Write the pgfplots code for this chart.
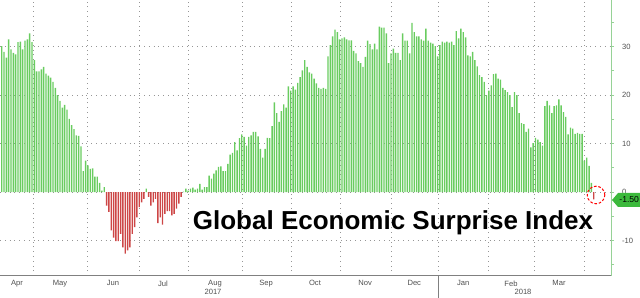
\documentclass[border=0pt]{standalone}
\usepackage{fontspec}
\setmainfont{Liberation Sans}
\usepackage{pgfplots}
\pgfplotsset{compat=1.18}
\usepackage{pgfplotstable}
\definecolor{gfill}{RGB}{105,204,95}
\definecolor{rfill}{RGB}{205,70,70}
\definecolor{axgreen}{RGB}{150,210,150}
\definecolor{txt}{RGB}{80,80,80}
\definecolor{gridc}{RGB}{150,150,150}
\definecolor{flag}{RGB}{60,185,60}

\pgfplotstableread{
i v
1 30.1
2 28.9
3 27.7
4 31.5
5 29.4
6 28.7
7 28.4
8 30.9
9 31.0
10 29.4
11 31.2
12 31.5
13 32.7
14 30.9
15 27.2
16 24.9
17 24.9
18 25.3
19 25.8
20 24.4
21 24.0
22 23.6
23 22.7
24 21.5
25 20.0
26 18.8
27 17.4
28 18.0
29 17.0
30 15.1
31 13.8
32 13.0
33 11.7
34 11.6
35 9.4
36 4.3
37 6.5
38 5.5
39 4.8
40 4.9
41 3.2
42 3.2
43 1.9
44 0.3
45 1.0
46 -2.8
47 -4.1
48 -7.9
49 -9.4
50 -10.1
51 -10.1
52 -8.6
53 -11.4
54 -12.7
55 -12.0
56 -11.4
57 -8.6
58 -7.2
59 -5.2
60 -3.1
61 -2.1
62 -1.4
63 0.7
64 -1.0
65 -2.8
66 -2.1
67 -1.4
68 -6.4
69 -5.2
70 -6.7
71 -4.5
72 -3.9
73 -3.9
74 -4.8
75 -4.5
76 -3.4
77 -2.4
78 -1.0
79 0.1
80 0.7
81 0.3
82 0.7
83 0.9
84 0.5
85 0.7
86 1.7
87 0.5
88 1.0
89 1.0
90 3.4
91 2.8
92 3.8
93 4.5
94 5.2
95 5.3
96 4.3
97 4.3
98 5.8
99 7.7
100 8.1
101 10.3
102 8.6
103 11.1
104 11.9
105 11.4
106 9.6
107 11.4
108 11.7
109 12.4
110 12.4
111 11.5
112 8.9
113 7.1
114 8.9
115 11.2
116 11.1
117 13.6
118 18.5
119 16.3
120 14.5
121 16.7
122 18.1
123 17.4
124 21.8
125 20.9
126 21.8
127 21.1
128 22.5
129 23.7
130 25.1
131 27.2
132 25.8
133 24.7
134 24.4
135 23.4
136 22.4
137 21.5
138 21.3
139 21.5
140 21.3
141 28.0
142 30.3
143 32.1
144 33.5
145 33.0
146 31.5
147 31.7
148 31.9
149 31.5
150 31.3
151 31.3
152 29.1
153 28.6
154 27.0
155 26.6
156 25.8
157 27.9
158 31.2
159 30.5
160 29.4
161 30.6
162 29.4
163 34.1
164 33.9
165 33.9
166 32.7
167 26.6
168 28.6
169 29.6
170 28.7
171 28.7
172 27.2
173 32.7
174 31.2
175 31.2
176 28.6
177 34.9
178 33.0
179 32.1
180 32.1
181 31.5
182 31.2
183 33.7
184 31.2
185 30.8
186 30.6
187 30.1
188 28.0
189 30.3
190 31.0
191 30.8
192 31.0
193 30.8
194 31.0
195 30.3
196 33.2
197 31.7
198 33.7
199 33.0
200 31.9
201 28.2
202 28.0
203 28.9
204 27.2
205 25.9
206 24.1
207 23.7
208 22.7
209 20.0
210 20.9
211 22.0
212 24.3
213 24.4
214 23.4
215 23.2
216 21.5
217 21.0
218 20.6
219 20.0
220 17.5
221 20.6
222 20.0
223 16.3
224 14.2
225 14.0
226 12.4
227 13.1
228 9.2
229 10.1
230 11.2
231 10.8
232 10.3
233 9.6
234 17.7
235 18.8
236 17.9
237 16.3
238 17.7
239 17.9
240 19.1
241 17.9
242 16.5
243 15.5
244 11.9
245 13.3
246 13.1
247 12.0
248 12.2
249 12.0
250 12.0
251 6.5
252 7.1
253 5.4
254 1.9
255 -1.5
}\data

\begin{document}
\begin{tikzpicture}[x=1pt,y=1pt]
\useasboundingbox (0,-11) rectangle (320,138);
\begin{axis}[
  at={(0,0)}, anchor=south west,
  scale only axis, width=305.5pt, height=138pt,
  xmin=0.27, xmax=262.4, ymin=-17.3, ymax=39.6,
  axis x line*=bottom, axis y line*=right,
  x axis line style={draw=gray, line width=0.5pt, -},
  y axis line style={draw=axgreen, line width=0.5pt, -},
  xtick={7.56,26.0,48.7,70.2,92.5,114.4,135.4,156.9,178.0,199.0,219.5,240.1},
  xticklabels={Apr,May,Jun,Jul,Aug,Sep,Oct,Nov,Dec,Jan,Feb,Mar},
  minor xtick={14.43,37.6,59.9,80.9,104.1,125.1,146.1,168.0,188.2,209.6,229.4,250.8},
  xminorgrids=true, xmajorgrids=false,
  x tick style={draw=none},
  xticklabel style={font=\fontsize{3.8}{4}\selectfont, text=txt, yshift=2.8pt},
  ytick={-10,0,10,20,30},
  yticklabels={-10,0,10,20,30},
  minor ytick={-15,-5,5,15,25,35},
  ymajorgrids=true,
  yticklabel pos=right,
  y tick style={draw=axgreen, line width=0.4pt},
  tick align=outside,
  major tick length=1.6pt, minor tick length=1.6pt,
  yticklabel style={font=\fontsize{3.8}{4}\selectfont, text=txt, xshift=0.4pt},
  grid style={dotted, gridc, line width=0.4pt},
  minor grid style={dotted, gridc, line width=0.4pt},
  clip=false,
]
\addplot[ybar, bar width=0.6, bar shift=0pt, fill=gfill, draw=none,
  y filter/.expression={y<0 ? nan : y}] table[x=i,y=v]{\data};
\addplot[ybar, bar width=0.6, bar shift=0pt, fill=rfill, draw=none,
  y filter/.expression={y<0 ? y : nan}] table[x=i,y=v]{\data};
\end{axis}
% circle around last value
\draw[red, dash pattern=on 1.3pt off 0.9pt, line width=0.5pt] (298,40.5) circle[radius=4.4pt];
% flag
\fill[flag] (306,38) -- (309,41.5) -- (320,41.5) -- (320,34.5) -- (309,34.5) -- cycle;
\node[font=\fontsize{4.3}{5}\selectfont, text=black, inner sep=0pt] at (314.6,38) {-1.50};
% year separator and labels
\draw[gray, line width=0.4pt] (219,0) -- (219,-11);
\node[font=\fontsize{3.8}{4}\selectfont, text=txt, inner sep=0pt] at (106.5,-7.8) {2017};
\node[font=\fontsize{3.8}{4}\selectfont, text=txt, inner sep=0pt] at (261.5,-7.8) {2018};
% title
\node[font=\fontsize{13}{15}\selectfont\bfseries, anchor=base, inner sep=0pt] at (196.5,23) {Global Economic Surprise Index};
\end{tikzpicture}
\end{document}
